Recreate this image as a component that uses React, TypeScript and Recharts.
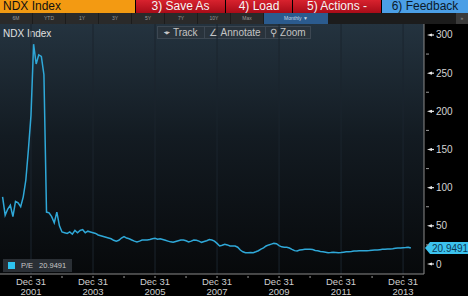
import React from 'react';
import { LineChart, Line, XAxis, YAxis, ReferenceLine, Legend } from 'recharts';

const startYear = 2001;

// monthly P/E, Jan 2001 .. Mar 2014
const peValues = [
  88, 64, 72, 77, 62, 82, 80, 75, 88, 110, 150, 195,
  288, 262, 274, 272, 248, 68, 67, 62, 54, 68, 50, 42,
  41, 40, 42, 39, 44, 41, 44, 45, 41, 43, 42, 41,
  40, 38, 37, 36, 35, 34, 33, 31, 30, 31, 34, 36,
  34, 33, 31.5, 30, 29, 30, 31.5, 31.5, 31.5, 32, 33, 33.6,
  32.5, 33, 32, 31, 30, 29, 28.4, 29.5, 30.5, 31.5, 31.5, 30.5,
  29, 30, 31.5, 31, 30, 28.4, 29.5, 30.5, 32, 31.5, 30, 27,
  23.6, 24.5, 25.8, 25, 23.6, 23.6, 23.6, 22, 18.3, 16, 14.8, 14.8,
  15, 14.8, 16, 17.4, 19.5, 21, 23.6, 25, 26, 27, 26.5, 24,
  22.5, 22, 22, 21, 19.2, 17.5, 17, 18.3, 18.8, 19.2, 19.2, 19.2,
  19, 17.8, 17.4, 16.5, 16, 15.5, 14.8, 15, 15.5, 15.2, 14.8, 15,
  15.5, 16, 16.2, 16.5, 17, 17, 17.2, 17.4, 17.4, 17.4, 17.6, 18,
  18.2, 18.4, 18.8, 19.2, 19.4, 19.6, 19.6, 20, 20.5, 20.8, 21, 21.4,
  21.6, 22, 20.9491,
];

const lastValue = 20.9491;
const yTicks = [0, 25, 50, 75, 100, 125, 150, 175, 200, 225, 250, 275, 300];
const labelYears = [2001, 2003, 2005, 2007, 2009, 2011, 2013];
const allYears = [2001, 2002, 2003, 2004, 2005, 2006, 2007, 2008, 2009, 2010, 2011, 2012, 2013];
const periodButtons = ['6M', 'YTD', '1Y', '3Y', '5Y', '7Y', '10Y', 'Max'];

const decIndex = (year: number) => (year - startYear) * 12 + 11;

const data = peValues.map((v, i) => ({ idx: i, pe: v }));

const font = '"Liberation Sans", Arial, sans-serif';

const YTick = (props: any) => {
  const { x, y, payload } = props;
  const major = payload.value % 50 === 0;
  if (!major) {
    return <line x1={x} x2={x + 3} y1={y} y2={y} stroke="#9a9a9a" strokeWidth={1} />;
  }
  return (
    <g>
      <polygon points={`${x + 1},${y} ${x + 6},${y - 1.6} ${x + 6},${y + 1.6}`} fill="#e8e8e8" />
      <line x1={x + 4} x2={x + 8} y1={y} y2={y} stroke="#e8e8e8" strokeWidth={1.2} />
      <text x={x + 10} y={y + 3.5} fill="#d4d4d4" fontSize={10} fontFamily={font}>{payload.value}</text>
    </g>
  );
};

const XTick = (props: any) => {
  const { x, y, payload } = props;
  const year = startYear + Math.floor(payload.value / 12);
  const labeled = labelYears.includes(year);
  return (
    <g>
      <line x1={x} x2={x} y1={y} y2={y + 2} stroke="#9a9a9a" strokeWidth={1} />
      {labeled && (
        <text x={x} textAnchor="middle" fill="#cfcfcf" fontSize={9.5} fontFamily={font}>
          <tspan x={x} y={y + 9}>Dec 31</tspan>
          <tspan x={x} y={y + 19}>{year}</tspan>
        </text>
      )}
    </g>
  );
};

const LastTag = (props: any) => {
  const { viewBox } = props;
  const x = viewBox.x + viewBox.width + 1;
  const y = viewBox.y;
  return (
    <g>
      <path d={`M${x} ${y} L${x + 5} ${y - 6} L${x + 43} ${y - 6} L${x + 43} ${y + 6} L${x + 5} ${y + 6} Z`} fill="#3cc3ee" />
      <text x={x + 7} y={y + 4} fill="#0c3a55" fontSize={10} fontFamily={font}>{lastValue}</text>
    </g>
  );
};

const LegendBox = () => (
  <div style={{ background: '#2a2f35', width: 69, height: 13, display: 'flex', alignItems: 'center', fontFamily: font, fontSize: 7.5, color: '#c8c8c8' }}>
    <span style={{ width: 7, height: 7, background: '#2ec4f0', marginLeft: 5, marginRight: 6 }} />
    <span style={{ marginRight: 6 }}>P/E</span>
    <span>{lastValue}</span>
  </div>
);

export default function App() {
  return (
    <div style={{ position: 'relative', width: 468, height: 296, background: '#000', overflow: 'hidden', fontFamily: font }}>
      <style>{'body{margin:0}'}</style>
      {/* top command bar */}
      <div style={{ position: 'absolute', left: 0, top: 0, width: 468, height: 13, display: 'flex', fontSize: 12, lineHeight: '13px' }}>
        <div style={{ width: 132, background: '#f39a12', color: '#111', paddingLeft: 3 }}>NDX Index</div>
        <div style={{ width: 89, marginLeft: 1, background: 'linear-gradient(#d8222e,#a80c18)', color: '#f4f4f4', textAlign: 'center' }}>3) Save As</div>
        <div style={{ width: 66, marginLeft: 1, background: 'linear-gradient(#d8222e,#a80c18)', color: '#f4f4f4', textAlign: 'center' }}>4) Load</div>
        <div style={{ width: 88, marginLeft: 1, background: 'linear-gradient(#d8222e,#a80c18)', color: '#f4f4f4', textAlign: 'center' }}>5) Actions -</div>
        <div style={{ flex: 1, marginLeft: 1, background: '#4b9fe6', color: '#0c1a2a', textAlign: 'center' }}>6) Feedback</div>
      </div>
      {/* period buttons */}
      <div style={{ position: 'absolute', left: 0, top: 13, width: 468, height: 11, background: '#1c1c1c', display: 'flex', fontSize: 5, lineHeight: '11px', color: '#9a9a9a' }}>
        {periodButtons.map((b) => (
          <div key={b} style={{ width: 32, marginRight: 1, background: '#2a2a2a', textAlign: 'center' }}>{b}</div>
        ))}
        <div style={{ width: 64, background: '#2b5b8e', color: '#c8d8ea', textAlign: 'center' }}>Monthly ▼</div>
        <div style={{ position: 'absolute', right: 0, width: 12, height: 11, background: '#3a3a3a', textAlign: 'center' }}>»</div>
      </div>
      {/* plot background */}
      <div style={{ position: 'absolute', left: 0, top: 24, width: 424, height: 250, background: 'linear-gradient(#24333f 0%, #131b22 45%, #07090b 100%)' }} />
      <div style={{ position: 'absolute', left: 3, top: 28, fontSize: 10, color: '#e0e0e0' }}>NDX Index</div>
      <div style={{ position: 'absolute', left: 157, top: 26, width: 152, height: 11, background: '#29333c', border: '1px solid #3c4752', display: 'flex', fontSize: 10, lineHeight: '11px', color: '#c4c4c4' }}>
        <div style={{ width: 46, textAlign: 'center', borderRight: '1px solid #3c4752' }}>⌖ Track</div>
        <div style={{ width: 60, textAlign: 'center', borderRight: '1px solid #3c4752' }}>∠ Annotate</div>
        <div style={{ flex: 1, textAlign: 'center' }}>⚲ Zoom</div>
      </div>
      <div style={{ position: 'absolute', left: 0, top: 0 }}>
        <LineChart width={468} height={296} data={data} margin={{ top: 24, right: 0, bottom: 0, left: 0 }}>
          {labelYears.map((yr) => (
            <ReferenceLine key={yr} x={decIndex(yr)} stroke="#1b252e" strokeWidth={1} />
          ))}
          <XAxis
            dataKey="idx"
            type="number"
            domain={[-1, 163.1]}
            ticks={allYears.map(decIndex)}
            tick={<XTick />}
            tickLine={false}
            tickSize={0}
            height={22}
            axisLine={{ stroke: '#8a8a8a' }}
            interval={0}
            allowDataOverflow
          />
          <YAxis
            orientation="right"
            type="number"
            domain={[-13.1, 314.4]}
            ticks={yTicks}
            tick={<YTick />}
            tickLine={false}
            tickSize={0}
            width={44}
            axisLine={{ stroke: '#8a8a8a' }}
            interval={0}
            allowDataOverflow
          />
          <ReferenceLine y={lastValue} stroke="none" label={<LastTag />} />
          <Legend
            verticalAlign="middle"
            layout="horizontal"
            wrapperStyle={{ position: 'absolute', left: 3, top: 259, width: 'auto' }}
            content={() => <LegendBox />}
          />
          <Line
            type="linear"
            dataKey="pe"
            name="P/E"
            stroke="#2fa8d8"
            strokeWidth={1.5}
            dot={false}
            isAnimationActive={false}
          />
        </LineChart>
      </div>
    </div>
  );
}
